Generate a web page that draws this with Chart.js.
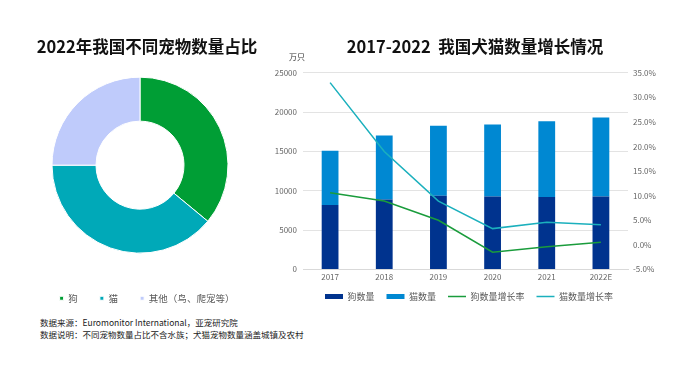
<!DOCTYPE html>
<html>
<head>
<meta charset="utf-8">
<script src="https://cdn.jsdelivr.net/npm/chart.js@4.4.1/dist/chart.umd.min.js"></script>
<style>
  body { margin: 0; background: #fff; font-family: "Noto Sans CJK SC", sans-serif; }
  #wrap { position: relative; width: 696px; height: 366px; overflow: hidden; }
  canvas { position: absolute; top: 0; }
  #pie-chart { left: 0; }
  #bar-chart { left: 265px; }
  .unit { position: absolute; left: 289px; top: 51px; font-size: 8px; color: #333; }
  .note { position: absolute; left: 40px; font-size: 8.5px; color: #222; white-space: nowrap; }
</style>
</head>
<body>
<div id="wrap">
  <canvas id="pie-chart" width="294" height="313"></canvas>
  <canvas id="bar-chart" width="420" height="316"></canvas>
  <div class="unit">万只</div>
  <div class="note" style="top:316px">数据来源：Euromonitor International，亚宠研究院</div>
  <div class="note" style="top:328px">数据说明：不同宠物数量占比不含水族；犬猫宠物数量涵盖城镇及农村</div>
</div>
<script>
// data
const petLabels = ["狗", "猫", "其他（鸟、爬宠等）"];
const petShare = [36, 39, 25];

const years = ["2017", "2018", "2019", "2020", "2021", "2022E"];
const dogCount = [8200, 8890, 9350, 9270, 9220, 9270];
const catCount = [6890, 8150, 8930, 9170, 9610, 10030];
const dogGrowth = [10.6, 8.9, 5.0, -1.5, -0.4, 0.5];
const catGrowth = [33.0, 19.0, 8.9, 3.3, 4.6, 4.1];

const font = "'Noto Sans CJK SC', sans-serif";
const gray = "#666";

// 饼图略偏左于标题
const shiftPie = {
  id: "shiftPie",
  afterLayout(chart) {
    chart.chartArea.left -= 7;
    chart.chartArea.right -= 7;
  },
};

// 图例往左上挪一点
const nudgeLegend = {
  id: "nudgeLegend",
  afterLayout(chart) {
    const lg = chart.legend;
    lg.left -= 6;
    lg.right -= 6;
    lg.top -= 5;
    lg.bottom -= 5;
  },
};

// 左：饼图
new Chart(document.getElementById("pie-chart"), {
  type: "doughnut",
  data: {
    labels: petLabels,
    datasets: [
      {
        data: petShare,
        backgroundColor: ["#009e35", "#00a9b8", "#bfcbfb"],
        borderColor: "#fff",
        borderWidth: 1,
        radius: 88,
        cutout: "50%",
      },
    ],
  },
  plugins: [shiftPie],
  options: {
    responsive: false,
    animation: false,
    layout: { padding: 0 },
    plugins: {
      title: {
        display: true,
        text: "2022年我国不同宠物数量占比",
        color: "#111",
        font: { family: font, size: 16.5, weight: "bold" },
        padding: { top: 37, bottom: 2 },
      },
      legend: {
        position: "bottom",
        labels: {
          usePointStyle: true,
          pointStyle: "rect",
          pointStyleWidth: 4,
          boxHeight: 4,
          padding: 22,
          color: "#595959",
          font: { family: font, size: 9.5 },
        },
      },
      tooltip: { enabled: false },
    },
  },
});

// 右：柱状+折线
new Chart(document.getElementById("bar-chart"), {
  type: "bar",
  data: {
    labels: years,
    datasets: [
      {
        label: "狗数量",
        data: dogCount,
        backgroundColor: "#00338e",
        yAxisID: "y",
        order: 2,
        pointStyle: "rect",
      },
      {
        label: "猫数量",
        data: catCount,
        backgroundColor: "#0088d2",
        yAxisID: "y",
        order: 2,
        pointStyle: "rect",
      },
      {
        type: "line",
        label: "狗数量增长率",
        data: dogGrowth,
        borderColor: "#1a9c3c",
        backgroundColor: "#1a9c3c",
        borderWidth: 1.5,
        pointRadius: 0,
        pointStyle: "line",
        yAxisID: "y1",
        order: 1,
      },
      {
        type: "line",
        label: "猫数量增长率",
        data: catGrowth,
        borderColor: "#1bb0bd",
        backgroundColor: "#1bb0bd",
        borderWidth: 1.5,
        pointRadius: 0,
        pointStyle: "line",
        yAxisID: "y1",
        order: 1,
      },
    ],
  },
  plugins: [nudgeLegend],
  options: {
    responsive: false,
    animation: false,
    categoryPercentage: 1,
    barPercentage: 0.31,
    layout: { padding: 0 },
    scales: {
      x: {
        stacked: true,
        grid: { display: false, drawTicks: false },
        border: { color: "#d9d9d9" },
        ticks: { color: gray, font: { family: font, size: 8 }, padding: 3 },
      },
      y: {
        stacked: true,
        min: 0,
        max: 25000,
        ticks: {
          stepSize: 5000,
          color: gray,
          font: { family: font, size: 8 },
          padding: 6,
          callback: (v) => String(v),
        },
        grid: { color: "#e3e3e3", drawTicks: false },
        border: { display: false },
        afterFit: (s) => { s.width = 38; },
      },
      y1: {
        position: "right",
        min: -5,
        max: 35,
        ticks: {
          stepSize: 5,
          color: gray,
          font: { family: font, size: 8 },
          padding: 5,
          callback: (v) => v.toFixed(1) + "%",
        },
        grid: { display: false, drawTicks: false },
        border: { display: false },
        afterFit: (s) => { s.width = 57; },
      },
    },
    plugins: {
      title: {
        display: true,
        text: "2017-2022  我国犬猫数量增长情况",
        color: "#111",
        font: { family: font, size: 16.5, weight: "bold" },
        padding: { top: 37, bottom: 16 },
      },
      legend: {
        position: "bottom",
        labels: {
          usePointStyle: true,
          pointStyleWidth: 18,
          boxHeight: 5,
          padding: 12,
          color: "#595959",
          font: { family: font, size: 9 },
          sort: (a, b) => a.datasetIndex - b.datasetIndex,
        },
      },
      tooltip: { enabled: false },
    },
  },
});
</script>
</body>
</html>
